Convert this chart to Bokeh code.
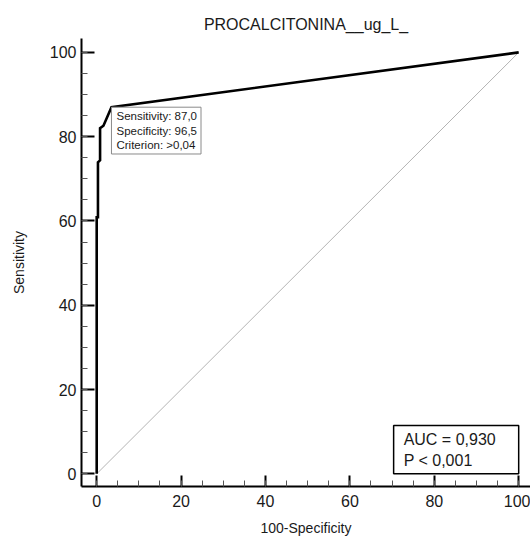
from bokeh.plotting import figure
from bokeh.models import Label, SingleIntervalTicker, Range1d
from bokeh.embed import file_html
from bokeh.resources import INLINE

# ---- data ----
title_text = "PROCALCITONINA__ug_L_"
fpr = [0.0, 0.0, 0.3, 0.3, 0.8, 0.8, 1.6, 3.5, 100.0]          # 100-Specificity
sens = [0.0, 60.9, 60.9, 73.9, 74.4, 82.0, 82.6, 87.0, 100.0]   # Sensitivity
diag_x = [0, 100]
diag_y = [0, 100]
crit_sens = 87.0
crit_spec = 96.5
crit_value = ">0,04"
auc_text = "0,930"
p_text = "< 0,001"
x_label = "100-Specificity"
y_label = "Sensitivity"

FONT = "Liberation Sans"

p = figure(width=530, height=538,
           x_range=Range1d(-3.6, 102.8), y_range=Range1d(-3.0, 103.3),
           output_backend="svg", toolbar_location=None,
           min_border_left=81, min_border_right=0, min_border_top=38,
           min_border_bottom=51, title=title_text)

p.background_fill_color = "white"
p.border_fill_color = "white"
p.outline_line_color = None
p.xgrid.visible = False
p.ygrid.visible = False

p.title.text_font = FONT
p.title.text_font_size = "16px"
p.title.text_font_style = "normal"
p.title.text_color = "#1a1a1a"
p.title.align = "center"
p.title.standoff = 11

for ax, lab, tin in ((p.xaxis, x_label, 11), (p.yaxis, y_label, 13)):
    ax.ticker = SingleIntervalTicker(interval=20, num_minor_ticks=4)
    ax.axis_label = lab
    ax.axis_label_text_font = FONT
    ax.axis_label_text_font_size = "14px"
    ax.axis_label_text_font_style = "normal"
    ax.axis_label_text_color = "#1a1a1a"
    ax.major_label_text_font = FONT
    ax.major_label_text_font_size = "16px"
    ax.major_label_text_color = "#1a1a1a"
    ax.axis_line_color = "black"
    ax.axis_line_width = 2
    ax.major_tick_line_color = "black"
    ax.major_tick_line_width = 2
    ax.minor_tick_line_color = "#555555"
    ax.minor_tick_line_width = 1
    ax.major_tick_in = tin
    ax.major_tick_out = 0
    ax.minor_tick_in = 6
    ax.minor_tick_out = 0

p.xaxis.major_label_standoff = 8
p.xaxis.axis_label_standoff = 10
p.yaxis.major_label_standoff = 5
p.yaxis.axis_label_standoff = 20

# reference diagonal
p.line(diag_x, diag_y, line_color="#b4b4b4", line_width=1)
# ROC curve
p.line(fpr, sens, line_color="black", line_width=2.6, line_join="miter")

crit_lab = Label(x=100 - crit_spec, y=crit_sens,
                 text=f"Sensitivity: {crit_sens:.1f}".replace(".", ",") + "\n"
                      + f"Specificity: {crit_spec:.1f}".replace(".", ",") + "\n"
                      + f"Criterion: {crit_value}",
                 anchor="top_left",
                 text_font=FONT, text_font_size="11.5px", text_color="#1a1a1a",
                 text_line_height=1.2,
                 padding=dict(left=5, right=4, top=3, bottom=3),
                 background_fill_color="white",
                 border_line_color="#8a8a8a", border_line_width=1)
p.add_layout(crit_lab)

auc_lab = Label(x=100, y=0,
                text=f"AUC = {auc_text}\nP {p_text}",
                anchor="bottom_right",
                text_font=FONT, text_font_size="16px", text_color="#1a1a1a",
                text_line_height=1.25,
                padding=dict(left=10, right=23, top=5, bottom=5),
                background_fill_color="white",
                border_line_color="black", border_line_width=1.5)
p.add_layout(auc_lab)

open("out.html", "w").write(file_html(p, INLINE))
